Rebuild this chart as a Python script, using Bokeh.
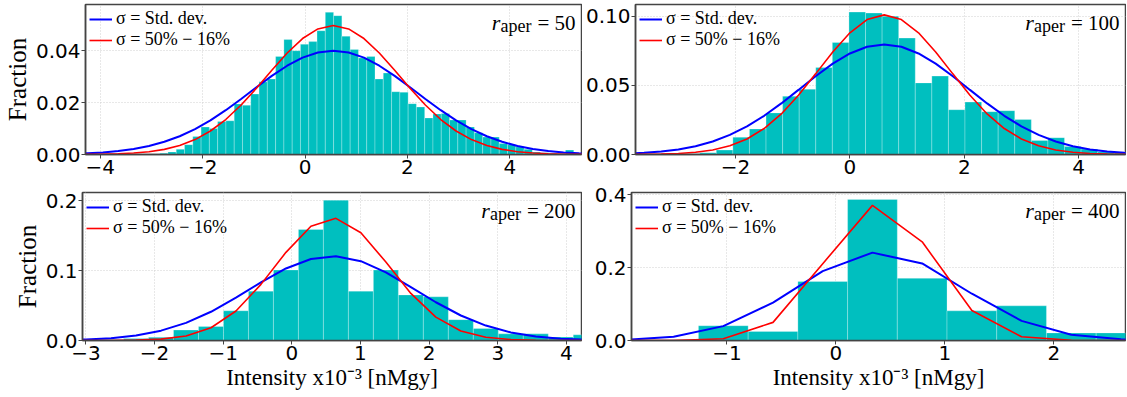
import numpy as np
from bokeh.plotting import figure
from bokeh.layouts import column, row
from bokeh.models import (Range1d, Legend, LegendItem, Label, FixedTicker,
                          CustomJSTickFormatter)
from bokeh.embed import file_html
from bokeh.resources import INLINE

# ---------------- data ----------------
# r_aper = 50
p1_bin_start = -2.841
p1_bin_width = 0.1618
p1_fraction = [0.0005, 0.0010, 0.0020, 0.0038, 0.0069, 0.0106, 0.0100, 0.0127, 0.0130, 0.0195,
               0.0190, 0.0233, 0.0280, 0.0291, 0.0378, 0.0443, 0.0400, 0.0425, 0.0435, 0.0477,
               0.0548, 0.0535, 0.0456, 0.0405, 0.0372, 0.0378, 0.0291, 0.0314, 0.0242, 0.0240,
               0.0196, 0.0183, 0.0141, 0.0156, 0.0158, 0.0133, 0.0133, 0.0106, 0.0084, 0.0067,
               0.0067, 0.0042, 0.0038, 0.0030, 0.0020, 0.0010, 0.0007, 0.0005, 0.0004, 0.0017,
               0.0002]
p1_curve_x = [-4.55, -4.25, -3.95, -3.65, -3.35, -3.05, -2.75, -2.45, -2.15, -1.85, -1.55, -1.25,
              -0.95, -0.65, -0.35, -0.05, 0.25, 0.55, 0.85, 1.15, 1.45, 1.75, 2.05, 2.35, 2.65,
              2.95, 3.25, 3.55, 3.85, 4.15, 4.45, 4.75, 5.05, 5.35, 5.65]
p1_std = [0.00026, 0.00047, 0.00080, 0.00133, 0.00212, 0.00328, 0.00489, 0.00704, 0.00979,
          0.01316, 0.01707, 0.02140, 0.02591, 0.03029, 0.03421, 0.03732, 0.03931, 0.04000,
          0.03931, 0.03732, 0.03421, 0.03029, 0.02591, 0.02140, 0.01707, 0.01316, 0.00979,
          0.00704, 0.00489, 0.00328, 0.00212, 0.00133, 0.00080, 0.00047, 0.00026]
p1_pct = [0.00002, 0.00005, 0.00012, 0.00027, 0.00055, 0.00108, 0.00198, 0.00347, 0.00575,
          0.00905, 0.01348, 0.01906, 0.02554, 0.03246, 0.03911, 0.04468, 0.04839, 0.04970,
          0.04839, 0.04468, 0.03911, 0.03246, 0.02554, 0.01906, 0.01348, 0.00905, 0.00575,
          0.00347, 0.00198, 0.00108, 0.00055, 0.00027, 0.00012, 0.00005, 0.00002]

# r_aper = 100
p2_bin_start = -2.917
p2_bin_width = 0.29
p2_fraction = [0.0005, 0.0012, 0.0032, 0.0125, 0.0185, 0.0301, 0.0421, 0.0472, 0.0629, 0.0810,
               0.1030, 0.1023, 0.1000, 0.0842, 0.0518, 0.0567, 0.0324, 0.0379, 0.0310, 0.0317,
               0.0254, 0.0101, 0.0122, 0.0058, 0.0039, 0.0020, 0.0015, 0.0005]
p2_curve_x = [-3.9, -3.6, -3.3, -3.0, -2.7, -2.4, -2.1, -1.8, -1.5, -1.2, -0.9, -0.6, -0.3, 0.0,
              0.3, 0.6, 0.9, 1.2, 1.5, 1.8, 2.1, 2.4, 2.7, 3.0, 3.3, 3.6, 3.9, 4.2, 4.5, 4.8, 5.1]
p2_std = [0.00066, 0.00122, 0.00217, 0.00369, 0.00603, 0.00944, 0.01415, 0.02035, 0.02801,
          0.03695, 0.04672, 0.05660, 0.06570, 0.07309, 0.07792, 0.07960, 0.07792, 0.07309,
          0.06570, 0.05660, 0.04672, 0.03695, 0.02801, 0.02035, 0.01415, 0.00944, 0.00603,
          0.00369, 0.00217, 0.00122, 0.00066]
p2_pct = [0.00004, 0.00012, 0.00030, 0.00072, 0.00159, 0.00326, 0.00626, 0.01123, 0.01879,
          0.02935, 0.04282, 0.05832, 0.07415, 0.08804, 0.09760, 0.10100, 0.09760, 0.08804,
          0.07415, 0.05832, 0.04282, 0.02935, 0.01879, 0.01123, 0.00626, 0.00326, 0.00159,
          0.00072, 0.00030, 0.00012, 0.00004]

# r_aper = 200
p3_bin_start = -2.816
p3_bin_width = 0.364
p3_fraction = [0.0010, 0.0027, 0.0045, 0.0150, 0.0200, 0.0426, 0.0707, 0.1010, 0.1590, 0.2010,
               0.0707, 0.1010, 0.0653, 0.0626, 0.0299, 0.0172, 0.0095, 0.0095, 0.0050, 0.0082]
p3_curve_x = [-3.362, -2.998, -2.634, -2.270, -1.906, -1.542, -1.178, -0.814, -0.450, -0.086,
              0.278, 0.642, 1.006, 1.370, 1.734, 2.098, 2.462, 2.826, 3.190, 3.554, 3.918, 4.282]
p3_std = [0.00055, 0.00142, 0.00335, 0.00719, 0.01409, 0.02521, 0.04116, 0.06127, 0.08325,
          0.1032, 0.1168, 0.1206, 0.1136, 0.0977, 0.0766, 0.0548, 0.0358, 0.0214, 0.0116,
          0.00576, 0.00261, 0.00108]
p3_pct = [0.0, 0.00002, 0.0001, 0.00047, 0.00193, 0.00653, 0.01831, 0.0422, 0.0804, 0.1263,
          0.1637, 0.1750, 0.1544, 0.1124, 0.0675, 0.0335, 0.0137, 0.0046, 0.0013, 0.0003,
          0.0001, 0.0]

# r_aper = 400
p4_bin_start = -1.261
p4_bin_width = 0.456
p4_fraction = [0.0405, 0.0250, 0.1618, 0.3870, 0.1705, 0.0813, 0.0951, 0.0208, 0.0208]
p4_curve_x = [-1.945, -1.489, -1.033, -0.577, -0.121, 0.335, 0.791, 1.247, 1.703, 2.159,
              2.615, 3.071]
p4_std = [0.00187, 0.0103, 0.0394, 0.1041, 0.1904, 0.2411, 0.2114, 0.1283, 0.0539, 0.0157,
          0.00317, 0.00044]
p4_pct = [0.0, 0.0002, 0.0049, 0.0497, 0.2107, 0.3707, 0.2707, 0.0821, 0.0103, 0.0005,
          0.0, 0.0]

apertures = ["50", "100", "200", "400"]
legend_labels = ["σ = Std. dev.", "σ = 50% − 16%"]
x_label = "Intensity x10⁻³ [nMgy]"
y_label = "Fraction"

# ---------------- styling ----------------
BAR_COLOR = "#00bfbf"
FRAME = "#444444"
SERIF = "Liberation Serif"
TICK_FONT = "DejaVu Sans"


def fmt(decimals):
    return CustomJSTickFormatter(args=dict(n=decimals),
                                 code="return tick.toFixed(n).replace('-', '\u2212');")


def panel(fraction, bin_start, bin_width, cx, c_std, c_pct, xr, yr, xticks, yticks, ydec,
          aper, W, H, bl, br, bt, bb, ylab, xlab):
    p = figure(width=W, height=H, output_backend="svg", toolbar_location=None,
               x_range=Range1d(*xr), y_range=Range1d(*yr),
               min_border_left=bl, min_border_right=br, min_border_top=bt,
               min_border_bottom=bb)
    p.outline_line_color = FRAME
    p.outline_line_width = 1.5
    p.background_fill_color = "white"
    p.border_fill_color = "white"

    n = len(fraction)
    left = bin_start + bin_width * np.arange(n)
    right = left + bin_width
    p.quad(left=left, right=right, bottom=0, top=fraction, fill_color=BAR_COLOR,
           line_color="white", line_alpha=0.25, line_width=1)

    rb = p.line(cx, c_std, line_color="#0000ff", line_width=2)
    rr = p.line(cx, c_pct, line_color="#ff0000", line_width=1.6)

    leg = Legend(items=[LegendItem(label=legend_labels[0], renderers=[rb]),
                        LegendItem(label=legend_labels[1], renderers=[rr])],
                 location="top_left")
    leg.label_text_font = SERIF
    leg.label_text_font_size = "18px"
    leg.label_text_color = "black"
    leg.glyph_width = 23
    leg.glyph_height = 16
    leg.label_height = 16
    leg.label_standoff = 4
    leg.spacing = 0
    leg.padding = 2
    leg.margin = 2
    leg.background_fill_alpha = 0
    leg.border_line_alpha = 0
    p.add_layout(leg)

    # r_aper annotation (top right)
    num_w = (0.814 + 0.5 * len(aper)) * 21
    p.add_layout(Label(x=xr[1], y=yr[1], x_offset=-6, y_offset=-18, text="= " + aper,
                       text_align="right", text_baseline="alphabetic",
                       text_font=SERIF, text_font_size="21px", text_color="black"))
    p.add_layout(Label(x=xr[1], y=yr[1], x_offset=-6 - num_w - 6, y_offset=-21, text="aper",
                       text_align="right", text_baseline="alphabetic",
                       text_font=SERIF, text_font_size="18px", text_color="black"))
    p.add_layout(Label(x=xr[1], y=yr[1], x_offset=-6 - num_w - 6 - 31, y_offset=-18, text="r",
                       text_align="right", text_baseline="alphabetic",
                       text_font=SERIF, text_font_size="22px", text_font_style="italic",
                       text_color="black"))

    for ax in (p.xaxis[0], p.yaxis[0]):
        ax.axis_line_color = FRAME
        ax.axis_line_width = 1.5
        ax.major_tick_line_color = FRAME
        ax.major_tick_out = 4
        ax.major_tick_in = 0
        ax.minor_tick_line_color = None
        ax.major_label_text_font = TICK_FONT
        ax.major_label_text_font_size = "20px"
        ax.major_label_text_color = "black"
        ax.major_label_standoff = 1
        ax.axis_label_text_font = SERIF
        ax.axis_label_text_font_style = "normal"
        ax.axis_label_text_color = "black"
        ax.axis_label_standoff = 2
    p.xaxis.axis_label_text_font_size = "23px"
    p.yaxis.axis_label_text_font_size = "25px"
    p.xaxis.ticker = FixedTicker(ticks=xticks)
    p.yaxis.ticker = FixedTicker(ticks=yticks)
    p.xaxis.formatter = fmt(0)
    p.yaxis.formatter = fmt(ydec)
    if ylab:
        p.yaxis.axis_label = y_label
    if xlab:
        p.xaxis.axis_label = x_label

    for g in (p.xgrid[0], p.ygrid[0]):
        g.grid_line_color = "#d0d0d0"
        g.grid_line_dash = "1 2"
        g.grid_line_width = 1
    return p


W1, W2 = 582, 544
H1, H2 = 182, 214

p1 = panel(p1_fraction, p1_bin_start, p1_bin_width, p1_curve_x, p1_std, p1_pct,
           (-4.29, 5.40), (0, 0.0578), [-4, -2, 0, 2, 4], [0, 0.02, 0.04], 2,
           apertures[0], W1, H1, 82, 1, 4, 28, True, False)
p2 = panel(p2_fraction, p2_bin_start, p2_bin_width, p2_curve_x, p2_std, p2_pct,
           (-3.75, 4.82), (0, 0.1085), [-2, 0, 2, 4], [0, 0.05, 0.10], 2,
           apertures[1], W2, H1, 49, 1, 4, 28, False, False)
p3 = panel(p3_fraction, p3_bin_start, p3_bin_width, p3_curve_x, p3_std, p3_pct,
           (-3.05, 4.22), (0, 0.212), [-3, -2, -1, 0, 1, 2, 3, 4], [0, 0.1, 0.2], 1,
           apertures[2], W1, H2, 82, 1, 10, 56, True, True)
p4 = panel(p4_fraction, p4_bin_start, p4_bin_width, p4_curve_x, p4_std, p4_pct,
           (-1.875, 2.656), (0, 0.406), [-1, 0, 1, 2], [0, 0.2, 0.4], 1,
           apertures[3], W2, H2, 49, 1, 10, 56, False, True)

layout = column(row(p1, p2), row(p3, p4))
open("out.html", "w").write(file_html(layout, INLINE))
